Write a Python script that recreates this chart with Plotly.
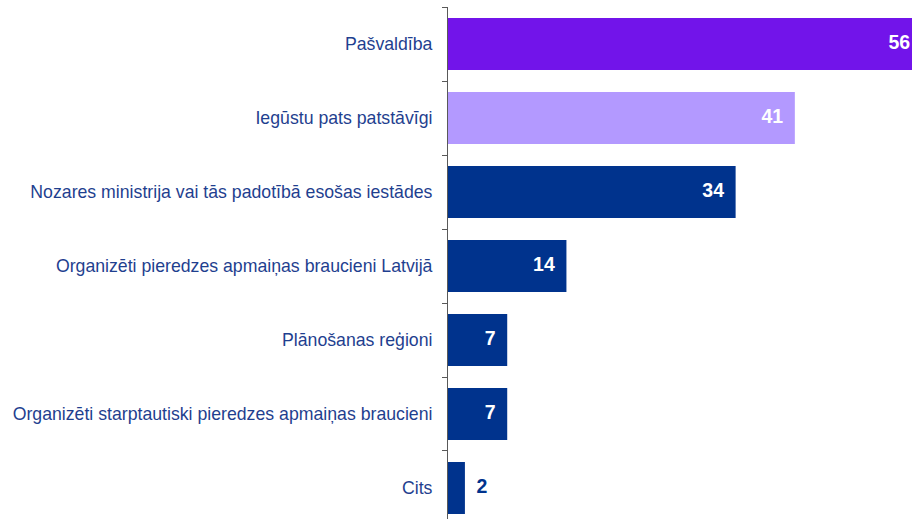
import plotly.graph_objects as go

# Survey answers: where respondents obtained information
categories = [
    "Pašvaldība",
    "Iegūstu pats patstāvīgi",
    "Nozares ministrija vai tās padotībā esošas iestādes",
    "Organizēti pieredzes apmaiņas braucieni Latvijā",
    "Plānošanas reģioni",
    "Organizēti starptautiski pieredzes apmaiņas braucieni",
    "Cits",
]
values = [56, 41, 34, 14, 7, 7, 2]
bar_colors = ["#7214ea", "#b399ff", "#00338d", "#00338d", "#00338d", "#00338d", "#00338d"]

positions = list(range(len(categories)))
boundaries = [p - 0.5 for p in positions]

# value labels: inside the bar end when there is room, otherwise just past it
label_pos = ["middle left" if v >= 5 else "middle right" for v in values]
label_col = ["#ffffff" if v >= 5 else "#00338d" for v in values]

fig = go.Figure()
fig.add_trace(go.Bar(
    x=values,
    y=positions,
    orientation="h",
    width=0.7,
    marker=dict(color=bar_colors, line=dict(width=0)),
    hoverinfo="skip",
))
fig.add_trace(go.Scatter(
    x=values,
    y=positions,
    mode="markers+text",
    marker=dict(size=17, color="rgba(0,0,0,0)"),
    text=[str(v) for v in values],
    textposition=label_pos,
    textfont=dict(family="Liberation Sans, Arial, sans-serif", size=19.5, color=label_col, weight="bold"),
    cliponaxis=True,
    hoverinfo="skip",
))

fig.update_layout(
    width=912,
    height=519,
    margin=dict(l=448, r=0, t=7, b=0),
    paper_bgcolor="white",
    plot_bgcolor="white",
    showlegend=False,
    bargap=0.3,
    font=dict(family="Liberation Sans, Arial, sans-serif"),
)
fig.update_xaxes(
    range=[0, 54.85],
    visible=False,
    showgrid=False,
    zeroline=False,
)
fig.update_yaxes(
    range=[6.419, -0.5],
    tickmode="array",
    tickvals=positions,
    ticktext=categories,
    ticks="",
    ticklabelstandoff=11,
    tickfont=dict(size=17.7, color="#1f3f8f"),
    showline=True,
    linecolor="#595959",
    linewidth=1,
    showgrid=False,
    zeroline=False,
    minor=dict(tickmode="array", tickvals=boundaries, ticks="outside",
               ticklen=5, tickcolor="#595959", tickwidth=1),
)

fig.write_html("out.html")
